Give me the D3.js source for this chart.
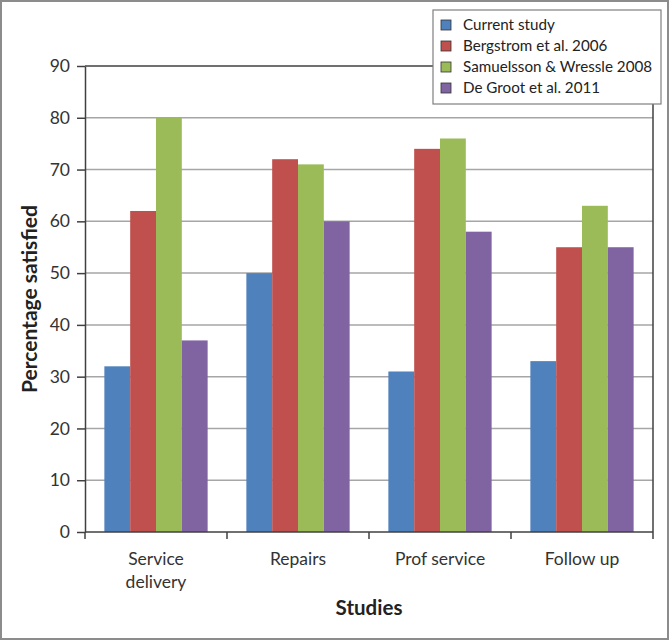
<!DOCTYPE html>
<html>
<head>
<meta charset="utf-8">
<script src="https://cdn.jsdelivr.net/npm/d3@7"></script>
<style>
  html, body { margin: 0; padding: 0; background: #fff; }
  svg { display: block; }
  text { font-family: Lato, "Open Sans", "DejaVu Sans", sans-serif; }
</style>
</head>
<body>
<svg id="chart" width="670" height="641"></svg>
<script>
const categories = ["Service delivery", "Repairs", "Prof service", "Follow up"];
const seriesNames = ["Current study", "Bergstrom et al. 2006", "Samuelsson & Wressle 2008", "De Groot et al. 2011"];
const currentStudy = [32, 50, 31, 33];
const bergstrom2006 = [62, 72, 74, 55];
const samuelsson2008 = [80, 71, 76, 63];
const deGroot2011 = [37, 60, 58, 55];
const yTicks = [0, 10, 20, 30, 40, 50, 60, 70, 80, 90];
const colors = ["#4f81bd", "#c0504d", "#9bbb59", "#8064a2"];

const seriesValues = [currentStudy, bergstrom2006, samuelsson2008, deGroot2011];

const svg = d3.select("#chart");
const W = 670, H = 641;
const plot = { left: 85, right: 653, top: 66, bottom: 532 };

// outer frame
svg.append("rect").attr("x", 1).attr("y", 1).attr("width", W - 3).attr("height", H - 3)
  .attr("fill", "#fff").attr("stroke", "#8c8c8c").attr("stroke-width", 2);

const x0 = d3.scaleBand().domain(categories).range([plot.left, plot.right]).padding(0);
const x1 = d3.scaleBand().domain(d3.range(seriesNames.length)).range([0, x0.bandwidth()])
  .paddingInner(0).paddingOuter(0.75);
const y = d3.scaleLinear().domain([0, 90]).range([plot.bottom, plot.top]);

// gridlines
svg.append("g").selectAll("line").data(yTicks.filter(d => d > 0 && d < 90)).join("line")
  .attr("x1", plot.left).attr("x2", plot.right)
  .attr("y1", d => y(d)).attr("y2", d => y(d))
  .attr("stroke", "#a6a6a6").attr("stroke-width", 1.5);

// bars
const groups = svg.append("g").selectAll("g").data(categories).join("g")
  .attr("transform", d => `translate(${x0(d)},0)`);
groups.selectAll("rect").data((c, ci) => seriesValues.map((s, si) => ({ si, v: s[ci] }))).join("rect")
  .attr("x", d => x1(d.si))
  .attr("width", x1.bandwidth())
  .attr("y", d => y(d.v))
  .attr("height", d => y(0) - y(d.v))
  .attr("fill", d => colors[d.si]);

// plot border top & right
svg.append("line").attr("x1", plot.left).attr("x2", plot.right).attr("y1", plot.top).attr("y2", plot.top)
  .attr("stroke", "#404040").attr("stroke-width", 1.5);
svg.append("line").attr("x1", plot.right).attr("x2", plot.right).attr("y1", plot.top).attr("y2", plot.bottom)
  .attr("stroke", "#404040").attr("stroke-width", 1.5);

// y axis
const yAxis = svg.append("g").attr("transform", `translate(${plot.left},0)`)
  .call(d3.axisLeft(y).tickValues(yTicks).tickSize(8).tickPadding(7).tickSizeOuter(0));
yAxis.select(".domain").attr("stroke", "#404040").attr("stroke-width", 1.5);
yAxis.selectAll(".tick line").attr("stroke", "#404040").attr("stroke-width", 1.5);
yAxis.selectAll(".tick text").attr("font-size", 17.5).attr("fill", "#333")
  .style("font-family", "Lato, 'Open Sans', sans-serif");

// x axis
const xAxis = svg.append("g").attr("transform", `translate(0,${plot.bottom})`)
  .call(d3.axisBottom(x0).tickSize(0).tickPadding(0));
xAxis.select(".domain").remove();
svg.append("line").attr("x1", plot.left).attr("x2", plot.right).attr("y1", plot.bottom).attr("y2", plot.bottom)
  .attr("stroke", "#404040").attr("stroke-width", 1.5);
const boundaries = categories.map(c => x0(c)).concat([x0(categories[categories.length - 1]) + x0.bandwidth()]);
svg.append("g").selectAll("line").data(boundaries).join("line")
  .attr("x1", d => d).attr("x2", d => d).attr("y1", plot.bottom).attr("y2", plot.bottom + 7)
  .attr("stroke", "#404040").attr("stroke-width", 1.5);
xAxis.selectAll(".tick text").each(function(d) {
  const t = d3.select(this);
  const words = d === "Service delivery" ? ["Service", "delivery"] : [d];
  t.text(null).attr("y", 0).attr("dy", null).attr("font-size", 17.5).attr("fill", "#333")
    .style("font-family", "Lato, 'Open Sans', sans-serif");
  words.forEach((w, i) => t.append("tspan").attr("x", 0).attr("y", 33 + i * 23).text(w));
});

// axis titles
svg.append("text").attr("transform", `translate(37,${(plot.top + plot.bottom) / 2}) rotate(-90)`)
  .attr("text-anchor", "middle").attr("font-size", 21).attr("font-weight", "bold").attr("fill", "#222")
  .text("Percentage satisfied");
svg.append("text").attr("x", (plot.left + plot.right) / 2).attr("y", 615)
  .attr("text-anchor", "middle").attr("font-size", 20.5).attr("font-weight", "bold").attr("fill", "#222")
  .text("Studies");

// legend
const lg = svg.append("g");
lg.append("rect").attr("x", 433).attr("y", 10).attr("width", 228).attr("height", 94)
  .attr("fill", "#fff").attr("stroke", "#7f7f7f").attr("stroke-width", 1.2);
const items = lg.selectAll("g.item").data(seriesNames).join("g").attr("class", "item")
  .attr("transform", (d, i) => `translate(441,${25 + i * 21})`);
items.append("rect").attr("x", 0).attr("y", -5).attr("width", 10).attr("height", 10)
  .attr("fill", (d, i) => colors[i]).attr("stroke", "#333").attr("stroke-width", 0.8);
items.append("text").attr("x", 22).attr("y", 0).attr("dy", "0.35em")
  .attr("font-size", 15.2).attr("fill", "#222").text(d => d);
</script>
</body>
</html>
